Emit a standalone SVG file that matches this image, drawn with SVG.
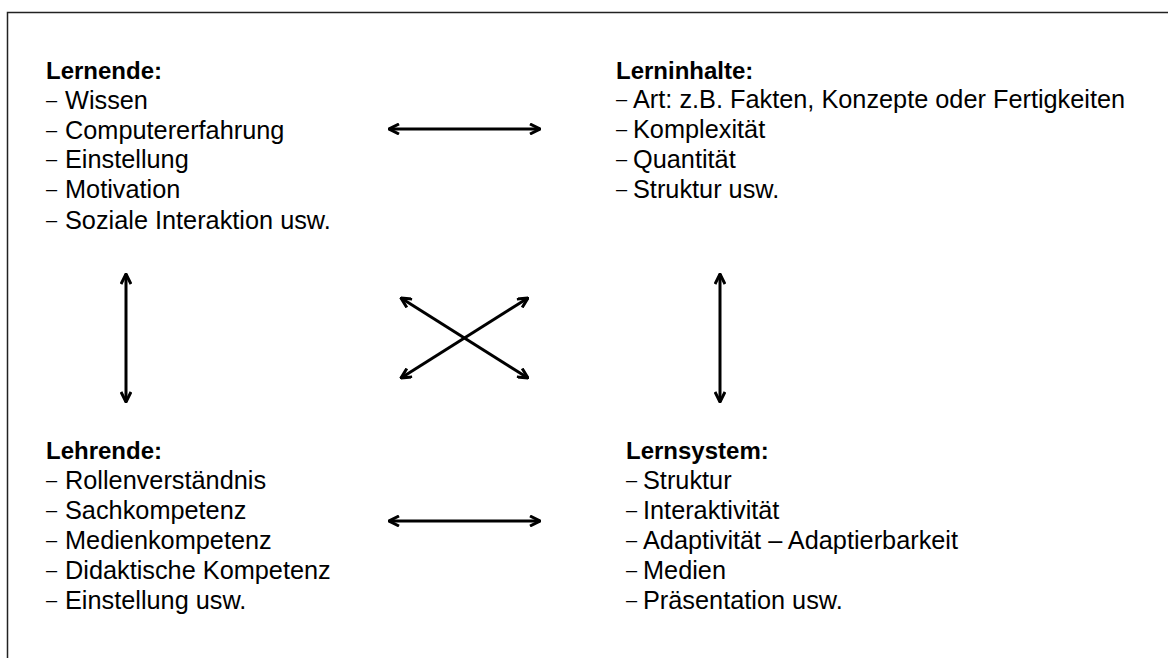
<svg xmlns="http://www.w3.org/2000/svg" width="1168" height="658" viewBox="0 0 1168 658">
<style>
text{font-family:"Liberation Sans",Arial,sans-serif;font-size:25.3px;fill:#000}
.h{font-weight:bold;font-size:24px}
.d{font-size:20px}
.c{stroke:#000;stroke-width:3;fill:none;marker-start:url(#a);marker-end:url(#a)}
</style>
<defs>
<marker id="a" viewBox="0 0 12 12" refX="11" refY="6" markerWidth="12" markerHeight="12" markerUnits="userSpaceOnUse" orient="auto-start-reverse">
<path d="M1,1 L11,6 L1,11" fill="none" stroke="#000" stroke-width="3"/>
</marker>
</defs>
<rect width="1168" height="658" fill="#fff"/>
<path d="M7.5,658 V12.5 H1168" fill="none" stroke="#222" stroke-width="1.5"/>
<g id="lernende">
<text class="h" x="46" y="79">Lernende:</text>
<text y="109"><tspan class="d" x="46" dy="-2.5">–</tspan><tspan x="65" dy="2.5">Wissen</tspan></text>
<text y="139"><tspan class="d" x="46" dy="-2.5">–</tspan><tspan x="65" dy="2.5">Computererfahrung</tspan></text>
<text y="168"><tspan class="d" x="46" dy="-2.5">–</tspan><tspan x="65" dy="2.5">Einstellung</tspan></text>
<text y="198"><tspan class="d" x="46" dy="-2.5">–</tspan><tspan x="65" dy="2.5">Motivation</tspan></text>
<text y="229"><tspan class="d" x="46" dy="-2.5">–</tspan><tspan x="65" dy="2.5">Soziale Interaktion usw.</tspan></text>
</g>
<g id="lerninhalte">
<text class="h" x="616" y="79">Lerninhalte:</text>
<text y="108"><tspan class="d" x="616" dy="-2.5">–</tspan><tspan x="633" dy="2.5">Art: z.B. Fakten, Konzepte oder Fertigkeiten</tspan></text>
<text y="138"><tspan class="d" x="616" dy="-2.5">–</tspan><tspan x="633" dy="2.5">Komplexität</tspan></text>
<text y="168"><tspan class="d" x="616" dy="-2.5">–</tspan><tspan x="633" dy="2.5">Quantität</tspan></text>
<text y="198"><tspan class="d" x="616" dy="-2.5">–</tspan><tspan x="633" dy="2.5">Struktur usw.</tspan></text>
</g>
<g id="lehrende">
<text class="h" x="46" y="459">Lehrende:</text>
<text y="489"><tspan class="d" x="46" dy="-2.5">–</tspan><tspan x="65" dy="2.5">Rollenverständnis</tspan></text>
<text y="519"><tspan class="d" x="46" dy="-2.5">–</tspan><tspan x="65" dy="2.5">Sachkompetenz</tspan></text>
<text y="549"><tspan class="d" x="46" dy="-2.5">–</tspan><tspan x="65" dy="2.5">Medienkompetenz</tspan></text>
<text y="579"><tspan class="d" x="46" dy="-2.5">–</tspan><tspan x="65" dy="2.5">Didaktische Kompetenz</tspan></text>
<text y="609"><tspan class="d" x="46" dy="-2.5">–</tspan><tspan x="65" dy="2.5">Einstellung usw.</tspan></text>
</g>
<g id="lernsystem">
<text class="h" x="626" y="459">Lernsystem:</text>
<text y="489"><tspan class="d" x="626" dy="-2.5">–</tspan><tspan x="643" dy="2.5">Struktur</tspan></text>
<text y="519"><tspan class="d" x="626" dy="-2.5">–</tspan><tspan x="643" dy="2.5">Interaktivität</tspan></text>
<text y="549"><tspan class="d" x="626" dy="-2.5">–</tspan><tspan x="643" dy="2.5">Adaptivität – Adaptierbarkeit</tspan></text>
<text y="579"><tspan class="d" x="626" dy="-2.5">–</tspan><tspan x="643" dy="2.5">Medien</tspan></text>
<text y="609"><tspan class="d" x="626" dy="-2.5">–</tspan><tspan x="643" dy="2.5">Präsentation usw.</tspan></text>
</g>
<g id="connectors">
<line class="c" x1="389" y1="129" x2="540" y2="129"/>
<line class="c" x1="389" y1="521" x2="540" y2="521"/>
<line class="c" x1="126" y1="274" x2="126" y2="402"/>
<line class="c" x1="720" y1="274" x2="720" y2="402"/>
<line class="c" x1="401" y1="298" x2="528" y2="378"/>
<line class="c" x1="528" y1="298" x2="401" y2="378"/>
</g>
</svg>
